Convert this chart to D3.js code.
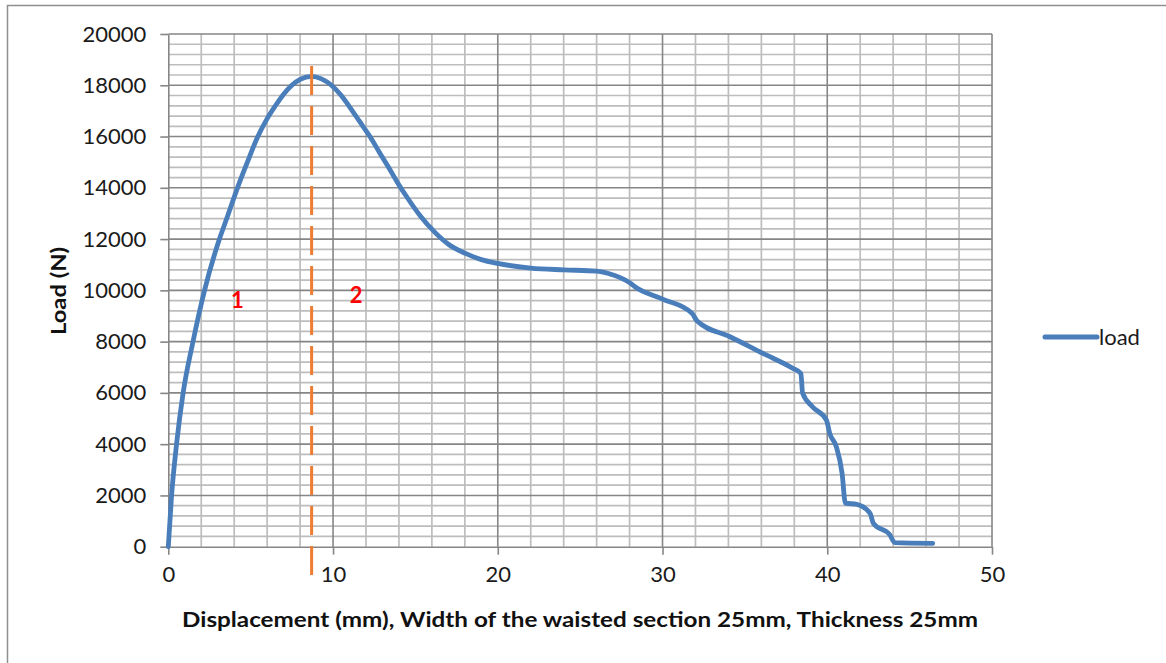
<!DOCTYPE html>
<html>
<head>
<meta charset="utf-8">
<script src="https://cdn.jsdelivr.net/npm/d3@7"></script>
<style>
  html, body { margin: 0; padding: 0; background: #fff; }
  svg { display: block; font-family: Lato, "Open Sans", sans-serif; }
</style>
</head>
<body>
<svg id="chart" width="1166" height="663"></svg>
<script>
// Tensile test: load vs. displacement
const displacement = [0, 0.2, 0.5, 0.9, 1.5, 2.2, 3.0, 3.6, 4.2, 4.8, 5.4, 6.0, 6.5, 7.0, 7.5, 8.0, 8.7, 9.3, 9.9, 10.5, 11.0, 11.6, 12.24, 12.8, 13.35, 13.9, 14.47, 15.3, 16.2, 17.0, 18.0, 19.0, 20.0, 22.0, 24.0, 26.0, 27.0, 28.0, 28.3, 30.0, 31.8, 32.1, 34.1, 36.1, 37.9, 38.4, 38.5, 39.1, 39.95, 40.15, 40.55, 40.9, 41.1, 41.8, 42.6, 42.8, 43.8, 44.1, 46.4];
const load = [0, 2000, 4000, 6000, 8000, 10000, 11800, 12900, 14000, 15000, 15950, 16700, 17200, 17650, 18000, 18230, 18350, 18250, 18000, 17600, 17160, 16600, 16000, 15400, 14820, 14220, 13650, 12900, 12250, 11800, 11450, 11200, 11050, 10870, 10800, 10750, 10600, 10300, 10150, 9660, 9100, 8800, 8190, 7540, 6960, 6760, 6000, 5460, 4940, 4420, 3900, 2860, 1700, 1650, 1300, 910, 460, 160, 130];

const xTicks = [0, 10, 20, 30, 40, 50];
const yTicks = [0, 2000, 4000, 6000, 8000, 10000, 12000, 14000, 16000, 18000, 20000];
const xMinorStep = 2;
const yMinorStep = 400;
const peakDisplacement = 8.7;
const regionLabels = [{ text: "1", x: 4.2, y: 9600 }, { text: "2", x: 11.4, y: 9800 }];
const seriesName = "load";
const xTitle = "Displacement (mm), Width of the waisted section 25mm, Thickness 25mm";
const yTitle = "Load (N)";

const svg = d3.select("#chart");
const plotLeft = 168.3, plotRight = 992, plotTop = 34, plotBottom = 546.7;

const x = d3.scaleLinear().domain([0, 50]).range([plotLeft, plotRight]);
const y = d3.scaleLinear().domain([0, 20000]).range([plotBottom, plotTop]);

// outer chart frame
svg.append("rect")
  .attr("x", 7.5).attr("y", 5.5).attr("width", 1170).attr("height", 670)
  .attr("fill", "none").attr("stroke", "#8f8f8f").attr("stroke-width", 1.5);

const grid = svg.append("g");
const minorColor = "#bdbdbd", majorColor = "#868686";

// minor grid
d3.range(0, 50 + 1e-9, xMinorStep).filter(v => v % 10 !== 0).forEach(v => {
  grid.append("line").attr("x1", x(v)).attr("x2", x(v)).attr("y1", y(0)).attr("y2", y(20000))
    .attr("stroke", minorColor).attr("stroke-width", 1.7);
});
d3.range(0, 20000 + 1e-9, yMinorStep).filter(v => v % 2000 !== 0).forEach(v => {
  grid.append("line").attr("x1", x(0)).attr("x2", x(50)).attr("y1", y(v)).attr("y2", y(v))
    .attr("stroke", minorColor).attr("stroke-width", 1.7);
});
// major grid
xTicks.filter(v => v !== 0).forEach(v => {
  grid.append("line").attr("x1", x(v)).attr("x2", x(v)).attr("y1", y(0)).attr("y2", y(20000))
    .attr("stroke", majorColor).attr("stroke-width", 1.6);
});
yTicks.filter(v => v !== 0).forEach(v => {
  grid.append("line").attr("x1", x(0)).attr("x2", x(50)).attr("y1", y(v)).attr("y2", y(v))
    .attr("stroke", majorColor).attr("stroke-width", 1.6);
});

// axes
const xAxis = svg.append("g").attr("transform", `translate(0,${y(0)})`)
  .call(d3.axisBottom(x).tickValues(xTicks).tickSize(8).tickSizeOuter(0).tickPadding(11));
const yAxis = svg.append("g").attr("transform", `translate(${x(0)},0)`)
  .call(d3.axisLeft(y).tickValues(yTicks).tickSize(8).tickSizeOuter(0).tickPadding(14).tickFormat(d3.format("d")));
[xAxis, yAxis].forEach(a => {
  a.select(".domain").attr("stroke", majorColor).attr("stroke-width", 1.6);
  a.selectAll(".tick line").attr("stroke", majorColor).attr("stroke-width", 1.6);
  a.selectAll(".tick text").attr("fill", "#1a1a1a").style("font-size", "22px")
    .style("font-family", "Lato, sans-serif");
});
xAxis.selectAll(".tick text").attr("dy", "0.72em");

// load curve
const line = d3.line().x((d, i) => x(displacement[i])).y(d => y(d)).curve(d3.curveMonotoneX);
svg.append("path").datum(load)
  .attr("d", line)
  .attr("fill", "none").attr("stroke", "#4a7ebb").attr("stroke-width", 4.8)
  .attr("stroke-linejoin", "round").attr("stroke-linecap", "round");

// peak marker
svg.append("line")
  .attr("x1", x(peakDisplacement)).attr("x2", x(peakDisplacement))
  .attr("y1", 66).attr("y2", 581)
  .attr("stroke", "#ed7d31").attr("stroke-width", 3).attr("stroke-dasharray", "29,11");

// region labels
svg.selectAll(".region").data(regionLabels).enter().append("text")
  .attr("x", d => x(d.x)).attr("y", d => y(d.y)).attr("dy", "0.35em")
  .attr("text-anchor", "middle").attr("fill", "#ff0000")
  .style("font-weight", "bold").style("font-size", "22px")
  .text(d => d.text);

// axis titles
svg.append("text").attr("x", 580).attr("y", 627).attr("text-anchor", "middle")
  .style("font-weight", "bold").style("font-size", "21px").attr("fill", "#111")
  .attr("textLength", 796).attr("lengthAdjust", "spacingAndGlyphs")
  .text(xTitle);
svg.append("text").attr("transform", "translate(66,291) rotate(-90)").attr("text-anchor", "middle")
  .style("font-weight", "bold").style("font-size", "21px").attr("fill", "#111")
  .attr("textLength", 88).attr("lengthAdjust", "spacingAndGlyphs")
  .text(yTitle);

// legend
svg.append("line").attr("x1", 1045).attr("x2", 1097).attr("y1", 337).attr("y2", 337)
  .attr("stroke", "#4a7ebb").attr("stroke-width", 5).attr("stroke-linecap", "round");
svg.append("text").attr("x", 1099).attr("y", 337).attr("dy", "0.35em")
  .style("font-size", "22px").attr("fill", "#1a1a1a").text(seriesName);
</script>
</body>
</html>
